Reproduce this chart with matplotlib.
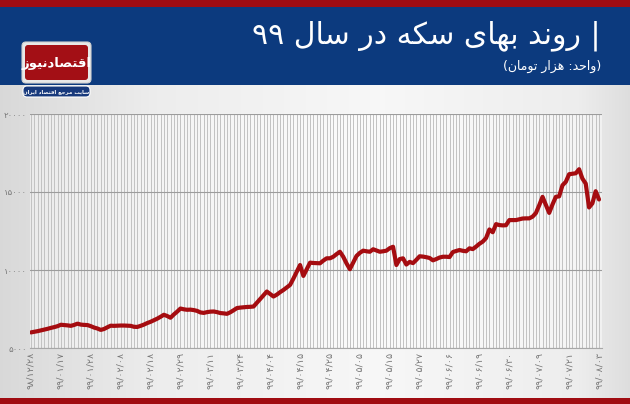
import numpy as np
import matplotlib
matplotlib.use("Agg")
import matplotlib.pyplot as plt
from matplotlib.patches import Rectangle, FancyBboxPatch

# ---------------- data ----------------
date_labels = ["۹۸/۱۲/۲۸", "۹۹/۰۱/۱۷", "۹۹/۰۱/۲۸", "۹۹/۰۲/۰۸", "۹۹/۰۲/۱۸",
               "۹۹/۰۲/۲۹", "۹۹/۰۳/۱۱", "۹۹/۰۳/۲۴", "۹۹/۰۴/۰۴", "۹۹/۰۴/۱۵",
               "۹۹/۰۴/۲۵", "۹۹/۰۵/۰۵", "۹۹/۰۵/۱۵", "۹۹/۰۵/۲۷", "۹۹/۰۶/۰۶",
               "۹۹/۰۶/۱۹", "۹۹/۰۶/۳۰", "۹۹/۰۷/۰۹", "۹۹/۰۷/۲۱", "۹۹/۰۸/۰۳"]
label_step = 9

coin_price = [
    6000, 6040, 6080, 6130, 6180, 6230, 6290, 6340, 6400, 6490,
    6470, 6450, 6420, 6480, 6560, 6500, 6480, 6470, 6400, 6310,
    6250, 6160, 6220, 6330, 6430, 6420, 6430, 6440, 6440, 6430,
    6420, 6360, 6350, 6420, 6500, 6600, 6680, 6780, 6880, 7000,
    7130, 7050, 6940, 7150, 7330, 7530, 7480, 7450, 7460, 7430,
    7380, 7280, 7250, 7300, 7330, 7340, 7300, 7240, 7220, 7190,
    7290, 7420, 7560, 7590, 7610, 7630, 7640, 7660, 7900, 8130,
    8380, 8620, 8460, 8300, 8420, 8580, 8720, 8880, 9045, 9450,
    9880, 10320, 9620, 10050, 10470, 10450, 10440, 10430, 10600, 10750,
    10750, 10850, 11020, 11170, 10850, 10420, 10050, 10480, 10900, 11100,
    11240, 11200, 11170, 11330, 11250, 11170, 11200, 11240, 11400, 11490,
    10320, 10700, 10750, 10350, 10520, 10440, 10650, 10880, 10860, 10820,
    10770, 10620, 10700, 10800, 10850, 10850, 10830, 11150, 11220, 11280,
    11230, 11200, 11390, 11340, 11500, 11680, 11820, 12050, 12600, 12420,
    12940, 12880, 12860, 12870, 13200, 13200, 13200, 13250, 13300, 13310,
    13310, 13420, 13650, 14150, 14690, 14180, 13660, 14200, 14690, 14720,
    15430, 15650, 16140, 16170, 16200, 16460, 15860, 15540, 14010, 14270,
    15050, 14520,
]

y_ticks = [5000, 10000, 15000, 20000]
y_tick_labels = ["۵۰۰۰", "۱۰۰۰۰", "۱۵۰۰۰", "۲۰۰۰۰"]

title_text = "| روند بهای سکه در سال ۹۹"
subtitle_text = "(واحد: هزار تومان)"
logo_text = "اقتصادنیوز"
logo_sub_text = "سایت مرجع اقتصاد ایران"

# ---------------- minimal Arabic/Persian shaping ----------------
FORMS = {
    'ا': ('\uFE8D', '\uFE8E', None, None),
    'ب': ('\uFE8F', '\uFE90', '\uFE91', '\uFE92'),
    'ت': ('\uFE95', '\uFE96', '\uFE97', '\uFE98'),
    'ج': ('\uFE9D', '\uFE9E', '\uFE9F', '\uFEA0'),
    'ح': ('\uFEA1', '\uFEA2', '\uFEA3', '\uFEA4'),
    'د': ('\uFEA9', '\uFEAA', None, None),
    'ر': ('\uFEAD', '\uFEAE', None, None),
    'ز': ('\uFEAF', '\uFEB0', None, None),
    'س': ('\uFEB1', '\uFEB2', '\uFEB3', '\uFEB4'),
    'ص': ('\uFEB9', '\uFEBA', '\uFEBB', '\uFEBC'),
    'ع': ('\uFEC9', '\uFECA', '\uFECB', '\uFECC'),
    'ق': ('\uFED5', '\uFED6', '\uFED7', '\uFED8'),
    '\u06A9': ('\uFB8E', '\uFB8F', '\uFB90', '\uFB91'),
    '\u0643': ('\uFB8E', '\uFB8F', '\uFB90', '\uFB91'),
    'ل': ('\uFEDD', '\uFEDE', '\uFEDF', '\uFEE0'),
    'م': ('\uFEE1', '\uFEE2', '\uFEE3', '\uFEE4'),
    'ن': ('\uFEE5', '\uFEE6', '\uFEE7', '\uFEE8'),
    'ه': ('\uFEE9', '\uFEEA', '\uFEEB', '\uFEEC'),
    'و': ('\uFEED', '\uFEEE', None, None),
    '\u06CC': ('\uFBFC', '\uFBFD', '\uFBFE', '\uFBFF'),
    '\u064A': ('\uFBFC', '\uFBFD', '\uFBFE', '\uFBFF'),
}


def _dual(ch):
    return ch in FORMS and FORMS[ch][2] is not None


def shape(s):
    out = []
    i, n = 0, len(s)
    while i < n:
        c = s[i]
        if c not in FORMS:
            out.append(c)
            i += 1
            continue
        cp = i > 0 and _dual(s[i - 1])
        if c == 'ل' and i + 1 < n and s[i + 1] == 'ا':
            out.append('\uFEFC' if cp else '\uFEFB')
            i += 2
            continue
        cn = i + 1 < n and s[i + 1] in FORMS and _dual(c)
        iso, fin, ini, med = FORMS[c]
        if cp and cn:
            g = med
        elif cp:
            g = fin
        elif cn:
            g = ini
        else:
            g = iso
        out.append(g)
        i += 1
    return ''.join(out)


def rtl(s):
    return shape(s)[::-1].translate(str.maketrans('()', ')('))


plt.rcParams['font.family'] = ['DejaVu Sans']

# ---------------- figure ----------------
W, H = 630, 404
fig = plt.figure(figsize=(W / 100, H / 100), dpi=100)

bg = fig.add_axes([0, 0, 1, 1])
bg.set_xlim(0, W)
bg.set_ylim(H, 0)
bg.axis('off')

# horizontal light-gray gradient background
xs = np.linspace(0, 1, 300)
lv = np.interp(xs, [0, 0.25, 0.6, 0.92, 1.0], [0.85, 0.93, 0.97, 0.93, 0.87])
grad = np.dstack([lv, lv, lv])[0][None, :, :]
bg.imshow(grad, extent=(0, W, H, 0), aspect='auto', zorder=0)

bg.add_patch(Rectangle((0, 0), W, 7, color='#a00c12', zorder=1, lw=0))
bg.add_patch(Rectangle((0, 7), W, 78, color='#0c3a7e', zorder=1, lw=0))
bg.add_patch(Rectangle((0, 398), W, 6, color='#a00c12', zorder=1, lw=0))

# logo
bg.add_patch(FancyBboxPatch((22, 42), 69, 41, boxstyle='round,pad=0,rounding_size=4',
                            fc='#e8e8e8', ec='#cfcfcf', lw=0.8, zorder=2))
bg.add_patch(FancyBboxPatch((25, 45), 63, 35, boxstyle='round,pad=0,rounding_size=3',
                            fc='#a30f15', ec='none', zorder=3))
bg.text(56.5, 63, rtl(logo_text), color='white', fontsize=9.5, fontweight='bold',
        ha='center', va='center', zorder=4)
bg.add_patch(FancyBboxPatch((23, 86), 67, 11, boxstyle='round,pad=0,rounding_size=4',
                            fc='#17397c', ec='white', lw=0.8, zorder=3))
bg.text(56.5, 91.5, rtl(logo_sub_text), color='white', fontsize=3.9, fontweight='bold',
        ha='center', va='center', zorder=4)

# titles
bg.text(601, 36, rtl(title_text), color='white', fontsize=21.5,
        ha='right', va='center', zorder=4)
bg.text(601, 66, rtl(subtitle_text), color='white', fontsize=9,
        ha='right', va='center', zorder=4)

# ---------------- main chart ----------------
N = len(coin_price)
ax = fig.add_axes([30 / W, 56 / H, 572 / W, 234 / H])
ax.set_facecolor((1, 1, 1, 0.45))
x = np.arange(N)
ax.plot(x, coin_price, color='#a50c10', lw=3.0, solid_joinstyle='round',
        solid_capstyle='round', zorder=3)
ax.set_xlim(-0.3, N - 1 + 0.9)
ax.set_ylim(5000, 20000)

ax.set_xticks(x, minor=True)
ax.set_xticks(x[::label_step])
ax.set_xticklabels(date_labels, rotation=90, fontsize=6.8, color='#787878')
ax.set_yticks(y_ticks)
ax.set_yticklabels(y_tick_labels, fontsize=6.1, color='#787878')
ax.tick_params(axis='both', which='both', length=0)
ax.tick_params(axis='x', pad=3)
ax.tick_params(axis='y', pad=2)

ax.set_axisbelow(True)
ax.grid(axis='x', which='both', color='#c2c2c2', lw=0.7)
ax.grid(axis='y', which='major', color='#9c9c9c', lw=0.8)
for side in ['top', 'right', 'left']:
    ax.spines[side].set_visible(False)
ax.spines['bottom'].set_color('#a8a8a8')
ax.spines['bottom'].set_linewidth(0.8)

fig.savefig('out.png', dpi=100)
